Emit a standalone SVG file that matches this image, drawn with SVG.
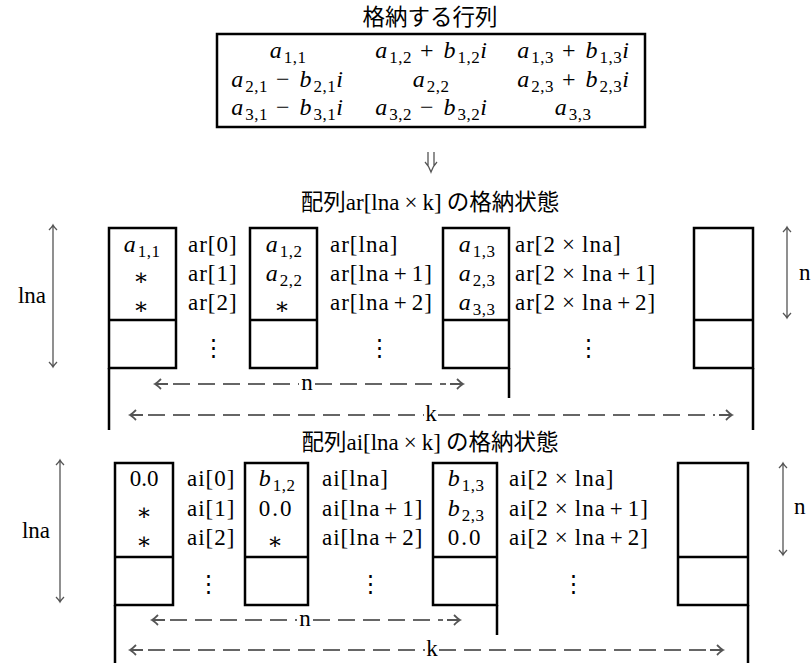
<svg xmlns="http://www.w3.org/2000/svg" width="811" height="663" viewBox="0 0 811 663">
<style>
text{white-space:pre}
.rm{font-family:"Liberation Serif","DejaVu Serif",serif;font-size:23px;fill:#000}
.m{font-family:"Liberation Serif","DejaVu Serif",serif;font-size:24px;letter-spacing:2px;fill:#000}
.lab{letter-spacing:1px}
.it{font-style:italic}
.sub{font-size:17px;font-style:normal;letter-spacing:0.5px}
.jp{font-family:"Noto Sans CJK JP","Noto Sans",sans-serif;font-size:22.5px;fill:#000}
.sym{font-family:"DejaVu Serif",serif;font-size:23px}
.box{fill:none;stroke:#000;stroke-width:2.5}
.dash{fill:none;stroke:#666;stroke-width:2.2;stroke-dasharray:17 8}
.ah{fill:none;stroke:#555;stroke-width:1.8}
.dim{fill:none;stroke:#555;stroke-width:1.3}
</style>
<rect width="811" height="663" fill="#fff"/>

<g id="matrix">
<text class="jp" x="430" y="25" text-anchor="middle">格納する行列</text>
<rect class="box" x="217" y="34" width="428" height="93"/>
<g class="m" text-anchor="middle">
<text x="288" y="58"><tspan class="it">a</tspan><tspan class="sub" dy="5">1,1</tspan></text>
<text x="288" y="87"><tspan class="it">a</tspan><tspan class="sub" dy="5">2,1</tspan><tspan dy="-5"> − </tspan><tspan class="it">b</tspan><tspan class="sub" dy="5">2,1</tspan><tspan class="it" dy="-5">i</tspan></text>
<text x="288" y="115"><tspan class="it">a</tspan><tspan class="sub" dy="5">3,1</tspan><tspan dy="-5"> − </tspan><tspan class="it">b</tspan><tspan class="sub" dy="5">3,1</tspan><tspan class="it" dy="-5">i</tspan></text>
<text x="432" y="58"><tspan class="it">a</tspan><tspan class="sub" dy="5">1,2</tspan><tspan dy="-5"> + </tspan><tspan class="it">b</tspan><tspan class="sub" dy="5">1,2</tspan><tspan class="it" dy="-5">i</tspan></text>
<text x="431" y="87"><tspan class="it">a</tspan><tspan class="sub" dy="5">2,2</tspan></text>
<text x="432" y="115"><tspan class="it">a</tspan><tspan class="sub" dy="5">3,2</tspan><tspan dy="-5"> − </tspan><tspan class="it">b</tspan><tspan class="sub" dy="5">3,2</tspan><tspan class="it" dy="-5">i</tspan></text>
<text x="574" y="58"><tspan class="it">a</tspan><tspan class="sub" dy="5">1,3</tspan><tspan dy="-5"> + </tspan><tspan class="it">b</tspan><tspan class="sub" dy="5">1,3</tspan><tspan class="it" dy="-5">i</tspan></text>
<text x="574" y="87"><tspan class="it">a</tspan><tspan class="sub" dy="5">2,3</tspan><tspan dy="-5"> + </tspan><tspan class="it">b</tspan><tspan class="sub" dy="5">2,3</tspan><tspan class="it" dy="-5">i</tspan></text>
<text x="573" y="115"><tspan class="it">a</tspan><tspan class="sub" dy="5">3,3</tspan></text>
</g>
</g>

<g id="ar-array">
<text x="430" y="210" text-anchor="middle"><tspan class="jp">配列</tspan><tspan class="rm">ar[lna<tspan dx="5">×</tspan><tspan dx="5">k]</tspan></tspan><tspan class="jp"> の格納状態</tspan></text>
<g id="ar-col1">
<rect class="box" x="109" y="228" width="67" height="140"/>
<path class="box" d="M109,320H176M109,368V430"/>
<g class="m" text-anchor="middle">
<text x="142" y="252"><tspan class="it">a</tspan><tspan class="sub" dy="5">1,1</tspan></text>
<text class="sym" x="142" y="285">∗</text>
<text class="sym" x="142" y="314">∗</text>
</g>
<g class="rm lab">
<text x="188" y="252">ar[0]</text>
<text x="188" y="281">ar[1]</text>
<text x="188" y="310">ar[2]</text>
</g>
<text class="sym" x="213" y="355" text-anchor="middle">⋮</text>
</g>
<g id="ar-col2">
<rect class="box" x="250" y="228" width="67" height="140"/>
<path class="box" d="M250,320H317"/>
<g class="m" text-anchor="middle">
<text x="284" y="252"><tspan class="it">a</tspan><tspan class="sub" dy="5">1,2</tspan></text>
<text x="284" y="281"><tspan class="it">a</tspan><tspan class="sub" dy="5">2,2</tspan></text>
<text class="sym" x="283" y="314">∗</text>
</g>
<g class="rm lab">
<text x="330" y="252">ar[lna]</text>
<text x="330" y="281">ar[lna<tspan dx="4">+</tspan><tspan dx="4">1]</tspan></text>
<text x="330" y="310">ar[lna<tspan dx="4">+</tspan><tspan dx="4">2]</tspan></text>
</g>
<text class="sym" x="379" y="355" text-anchor="middle">⋮</text>
</g>
<g id="ar-col3">
<rect class="box" x="443" y="228" width="66" height="140"/>
<path class="box" d="M443,320H509M509,368V398"/>
<g class="m" text-anchor="middle">
<text x="477" y="252"><tspan class="it">a</tspan><tspan class="sub" dy="5">1,3</tspan></text>
<text x="477" y="281"><tspan class="it">a</tspan><tspan class="sub" dy="5">2,3</tspan></text>
<text x="477" y="310"><tspan class="it">a</tspan><tspan class="sub" dy="5">3,3</tspan></text>
</g>
<g class="rm lab">
<text x="515" y="252">ar[2<tspan dx="6">×</tspan><tspan dx="6">lna]</tspan></text>
<text x="515" y="281">ar[2<tspan dx="6">×</tspan><tspan dx="6">lna</tspan><tspan dx="4">+</tspan><tspan dx="4">1]</tspan></text>
<text x="515" y="310">ar[2<tspan dx="6">×</tspan><tspan dx="6">lna</tspan><tspan dx="4">+</tspan><tspan dx="4">2]</tspan></text>
</g>
<text class="sym" x="588" y="355" text-anchor="middle">⋮</text>
</g>
<g id="ar-colk">
<rect class="box" x="694" y="228" width="59" height="140"/>
<path class="box" d="M694,320H753M753,368V430"/>
</g>
<g class="rm">
<text x="46" y="303" text-anchor="end">lna</text>
<text x="799" y="280">n</text>
<text x="307" y="390" text-anchor="middle">n</text>
<text x="431" y="421" text-anchor="middle">k</text>
</g>
</g>

<g id="ai-array">
<text x="430" y="450" text-anchor="middle"><tspan class="jp">配列</tspan><tspan class="rm">ai[lna<tspan dx="5">×</tspan><tspan dx="5">k]</tspan></tspan><tspan class="jp"> の格納状態</tspan></text>
<g id="ai-col1">
<rect class="box" x="115" y="463" width="58" height="142"/>
<path class="box" d="M115,557H173M115,605V663"/>
<g class="rm" text-anchor="middle">
<text x="144" y="486">0.0</text>
<text class="sym" x="144" y="520">∗</text>
<text class="sym" x="144" y="549">∗</text>
</g>
<g class="rm lab">
<text x="187" y="486">ai[0]</text>
<text x="187" y="516">ai[1]</text>
<text x="187" y="545">ai[2]</text>
</g>
<text class="sym" x="208" y="591" text-anchor="middle">⋮</text>
</g>
<g id="ai-col2">
<rect class="box" x="245" y="463" width="63" height="142"/>
<path class="box" d="M245,557H308"/>
<g class="m" text-anchor="middle">
<text x="277" y="486"><tspan class="it">b</tspan><tspan class="sub" dy="5">1,2</tspan></text>
<text class="rm" x="276" y="516">0.0</text>
<text class="sym" x="276" y="549">∗</text>
</g>
<g class="rm lab">
<text x="322" y="486">ai[lna]</text>
<text x="322" y="516">ai[lna<tspan dx="4">+</tspan><tspan dx="4">1]</tspan></text>
<text x="322" y="545">ai[lna<tspan dx="4">+</tspan><tspan dx="4">2]</tspan></text>
</g>
<text class="sym" x="370" y="591" text-anchor="middle">⋮</text>
</g>
<g id="ai-col3">
<rect class="box" x="433" y="463" width="64" height="142"/>
<path class="box" d="M433,557H497M497,605V635"/>
<g class="m" text-anchor="middle">
<text x="466" y="486"><tspan class="it">b</tspan><tspan class="sub" dy="5">1,3</tspan></text>
<text x="466" y="516"><tspan class="it">b</tspan><tspan class="sub" dy="5">2,3</tspan></text>
<text class="rm" x="465" y="545">0.0</text>
</g>
<g class="rm lab">
<text x="509" y="486">ai[2<tspan dx="6">×</tspan><tspan dx="6">lna]</tspan></text>
<text x="509" y="516">ai[2<tspan dx="6">×</tspan><tspan dx="6">lna</tspan><tspan dx="4">+</tspan><tspan dx="4">1]</tspan></text>
<text x="509" y="545">ai[2<tspan dx="6">×</tspan><tspan dx="6">lna</tspan><tspan dx="4">+</tspan><tspan dx="4">2]</tspan></text>
</g>
<text class="sym" x="573" y="591" text-anchor="middle">⋮</text>
</g>
<g id="ai-colk">
<rect class="box" x="678" y="463" width="70" height="142"/>
<path class="box" d="M678,557H748M748,605V663"/>
</g>
<g class="rm">
<text x="50" y="538" text-anchor="end">lna</text>
<text x="794" y="514">n</text>
<text x="305" y="626" text-anchor="middle">n</text>
<text x="432" y="656" text-anchor="middle">k</text>
</g>
</g>

<g id="connectors">
<path class="dim" d="M428,152V166M434,152V166M425,162Q429,166 431,172Q433,166 437,162"/>
<path class="dim" d="M53,225V367M49,230Q52,227 53,225Q54,227 57,230M49,362Q52,365 53,367Q54,365 57,362"/>
<path class="dim" d="M787,227V318M783,232Q786,229 787,227Q788,229 791,232M783,313Q786,316 787,318Q788,316 791,313"/>
<path class="dim" d="M60,460V602M56,465Q59,462 60,460Q61,462 64,465M56,597Q59,600 60,602Q61,600 64,597"/>
<path class="dim" d="M783,463V555M779,468Q782,465 783,463Q784,465 787,468M779,550Q782,553 783,555Q784,553 787,550"/>
<path class="ah" d="M161,379Q157,383 155,384Q157,385 161,389M155,384H168M457,379Q461,383 463,384Q461,385 457,389M450,384H463"/>
<path class="dash" d="M173,384H299M315,384H446"/>
<path class="ah" d="M136,410Q132,414 130,415Q132,416 136,420M130,415H143M726,410Q730,414 732,415Q730,416 726,420M719,415H732"/>
<path class="dash" d="M148,415H424M438,415H715"/>
<path class="ah" d="M158,615Q154,619 152,620Q154,621 158,625M152,620H165M454,615Q458,619 460,620Q458,621 454,625M447,620H460"/>
<path class="dash" d="M170,620H297M313,620H443"/>
<path class="ah" d="M136,645Q132,649 130,650Q132,651 136,655M130,650H143M717,645Q721,649 723,650Q721,651 717,655M710,650H723"/>
<path class="dash" d="M148,650H425M439,650H706"/>
</g>
</svg>
